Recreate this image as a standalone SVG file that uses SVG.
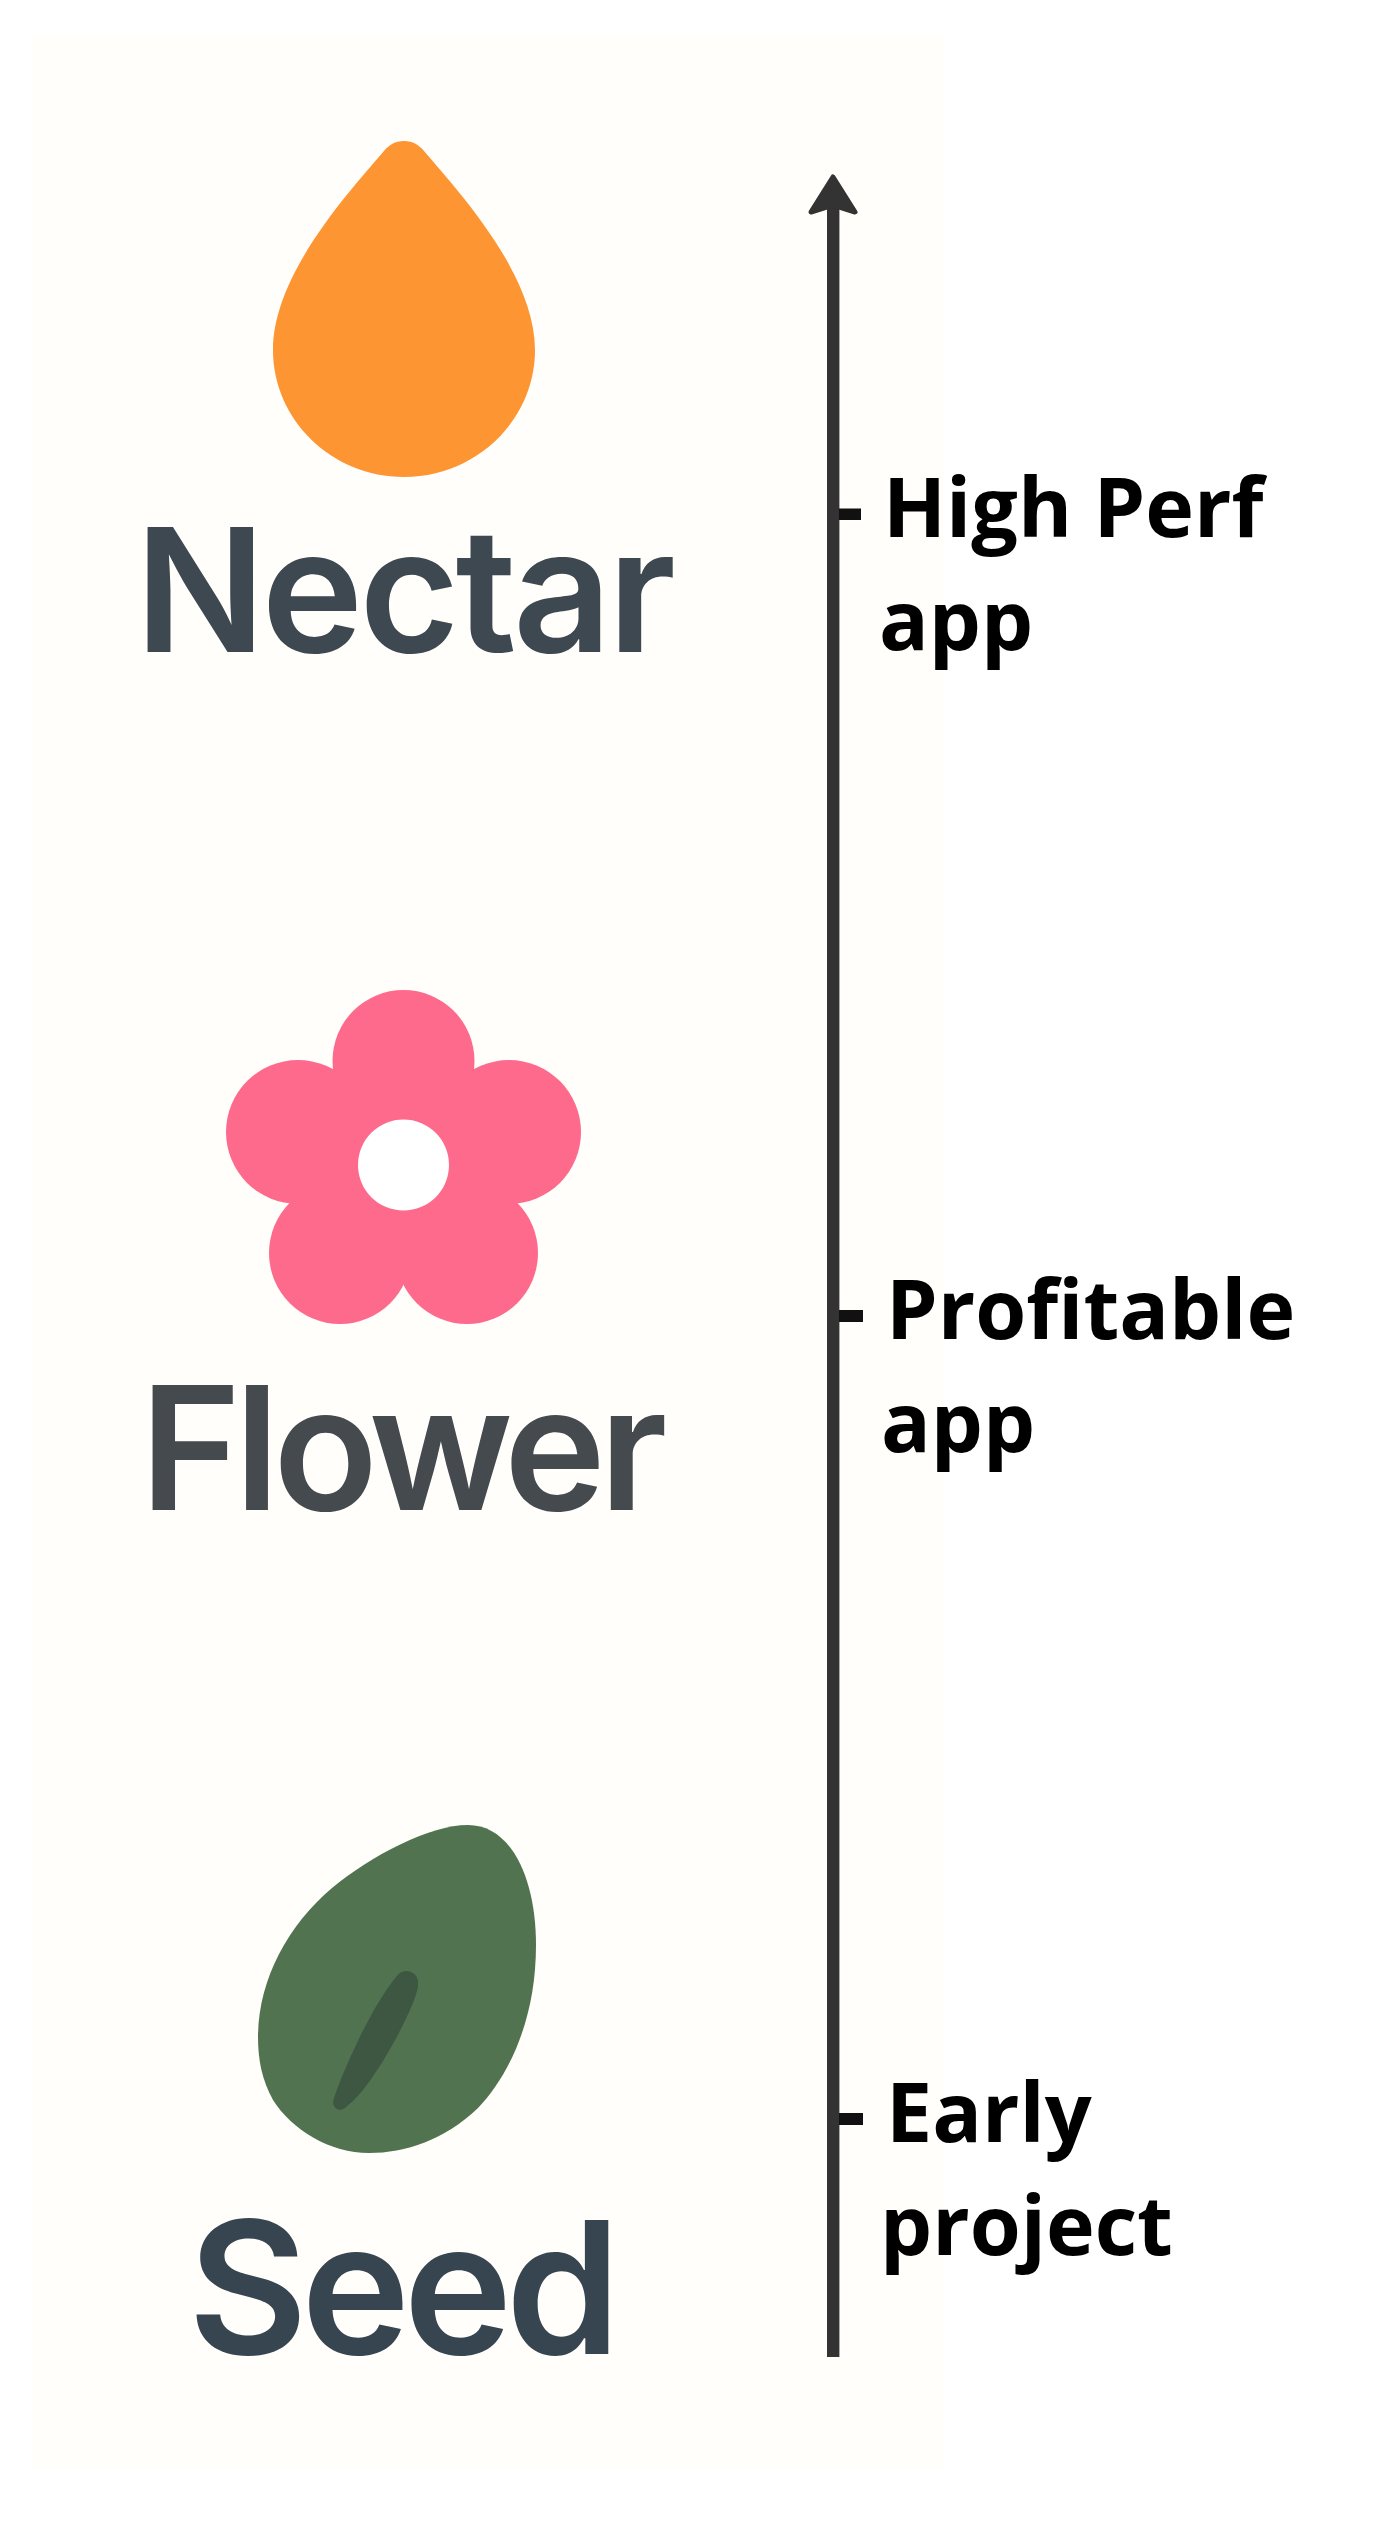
<svg xmlns="http://www.w3.org/2000/svg" width="1376" height="2524" viewBox="0 0 1376 2524">
<style>
.name{font-family:Inter,"Liberation Sans",sans-serif;font-weight:600;font-size:172px}
.lab{font-family:"Open Sans","Noto Sans",sans-serif;font-weight:700;font-size:82.500px;fill:#000}
.tick{fill:#111}
</style>
<rect id="page" width="1376" height="2524" fill="#fff"/>
<rect id="panel" x="32" y="35" width="912" height="2433" fill="#fffefb"/>
<g id="connectors">
<rect x="827" y="205" width="12.400" height="2152" fill="#333"/>
<path d="M833 177 L855 212 L833 205 L811 212 Z" fill="#333" stroke="#333" stroke-width="5" stroke-linejoin="round"/>
<rect class="tick" x="839" y="508.500" width="22" height="11.500"/>
<rect class="tick" x="839" y="1310" width="24" height="12"/>
<rect class="tick" x="839" y="2113" width="24" height="12"/>
</g>
<g id="nectar">
<path d="M404 141 C413 141 419 145 424 151 C460 193 535 275 535 350 C535 420 476 477 404 477 C332 477 273 420 273 350 C273 275 348 193 384 151 C389 145 395 141 404 141Z" fill="#fd9533"/>
<text class="name" x="135" y="652" fill="#3d4850" style="letter-spacing:-4px">Nectar</text>
</g>
<g id="flower">
<g fill="#fd6a8b">
<circle cx="403.500" cy="1061" r="71"/>
<circle cx="298" cy="1132" r="72"/>
<circle cx="509" cy="1132" r="72"/>
<circle cx="340" cy="1253" r="71"/>
<circle cx="467" cy="1253" r="71"/>
<circle cx="403.500" cy="1165" r="100"/>
</g>
<circle cx="403.500" cy="1165" r="45.500" fill="#fff"/>
<text class="name" x="140" y="1510" fill="#454a4f" style="letter-spacing:-6.500px">Flower</text>
</g>
<g id="seed">
<path d="M468 1825 C512 1825 536 1880 536 1945 C536 2015 512 2072 478 2108 C445 2140 405 2153 369 2153 C330 2153 292 2130 273 2100 C262 2080 258 2060 258 2037 C258 1980 288 1925 332 1888 C372 1855 430 1825 468 1825Z" fill="#51734f"/>
<path d="M406 1971 C414 1971 419 1977 418 1985 C418 2003 372 2089 347 2106 C342 2112 334 2111 333 2102 C336 2089 366 2014 396 1977 C399 1973 402 1971 406 1971Z" fill="#3d5742"/>
<text class="name" x="188" y="2354" fill="#36454f" style="font-size:184px;letter-spacing:-6.500px">Seed</text>
</g>
<g id="label-high">
<text class="lab" x="883" y="537">High Perf</text>
<text class="lab" x="879" y="650">app</text>
</g>
<g id="label-profitable">
<text class="lab" x="886" y="1339">Profitable</text>
<text class="lab" x="881" y="1452">app</text>
</g>
<g id="label-early">
<text class="lab" x="886" y="2142">Early</text>
<text class="lab" x="880" y="2255">project</text>
</g>
</svg>
